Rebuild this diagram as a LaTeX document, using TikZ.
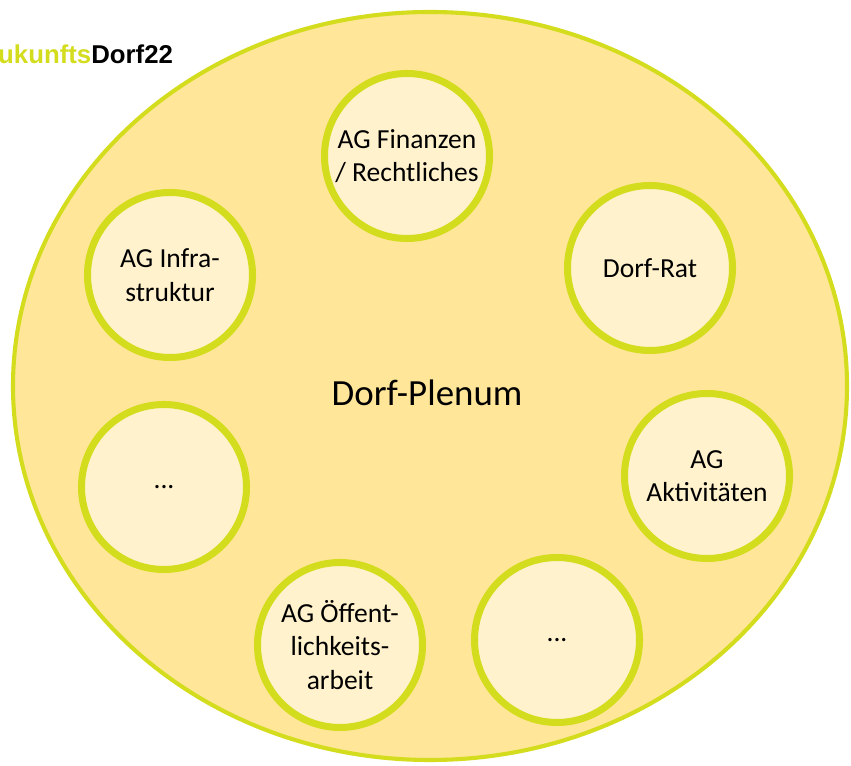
\documentclass[tikz,border=0pt]{standalone}
\usepackage{fontspec}
\setmainfont{Carlito}
\newfontfamily\titlefont{Liberation Sans}
\definecolor{agrand}{HTML}{D4DC1E}
\definecolor{plenumfill}{HTML}{FFE699}
\definecolor{agfill}{HTML}{FFF2CC}
\tikzset{
  ag/.style={circle, draw=agrand, fill=agfill, line width=6pt, minimum size=4.95cm,
    inner sep=0pt, align=center, font=\fontsize{23.5}{28.5}\selectfont}
}
\begin{document}
\begin{tikzpicture}[x=0.03cm,y=0.03cm]
			\useasboundingbox (0,0) rectangle (851,765);
			\clip (0,0) rectangle (851,765);
			\fill[white] (0,0) rectangle (851,765);
			\draw[draw=agrand, fill=plenumfill, line width=3.5pt] (430,379) ellipse (417 and 374);
			\node (plenum) at (427,372) {\fontsize{31.5}{38}\selectfont Dorf-Plenum};
			\node[ag] (finanzen) at (407,609) {AG Finanzen\\/ Rechtliches};
			\node[ag] (infra) at (170,490) {AG Infra-\\struktur};
			\node[ag] (rat) at (650,497) {Dorf-Rat};
			\node[ag] (leerlinks) at (164,278) {...};
			\node[ag] (aktiv) at (707,289) {AG\\Aktivitäten};
			\node[ag] (oeff) at (340,120) {AG Öffent-\\lichkeits-\\arbeit};
			\node[ag] (leerunten) at (557,125) {...};
			\node[anchor=west, inner sep=0pt] (titel) at (-2,711)
				{\titlefont\fontsize{22}{25}\selectfont\bfseries\textcolor{agrand}{ukunfts}Dorf22};
		\end{tikzpicture}
\end{document}
